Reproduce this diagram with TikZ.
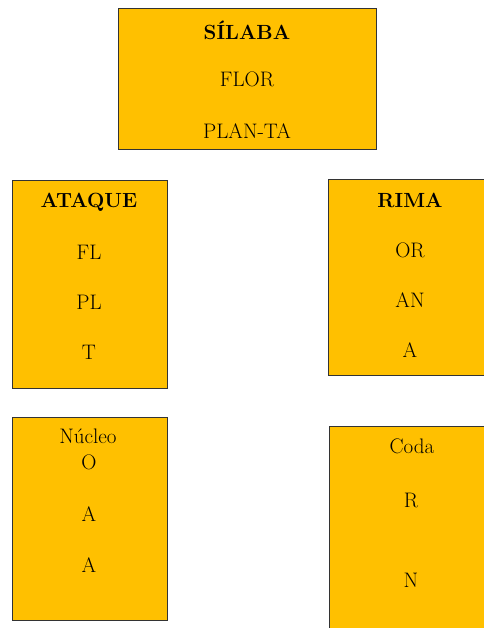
\documentclass[tikz,border=0pt]{standalone}
\usepackage{tikz}
\usepackage{color}
\definecolor{boxorange}{RGB}{255,192,0}

\begin{document}
\begin{tikzpicture}[x=1pt, y=-1pt, box/.style={draw=black!80, line width=1pt, fill=boxorange, anchor=north west, inner sep=0pt}, txt/.style={font=\fontsize{21}{25}\selectfont, inner sep=0pt}, head/.style={txt, font=\fontsize{20.5}{25}\selectfont\bfseries}]
            \useasboundingbox (0,0) rectangle (483,628);
            \node[box, minimum width=258pt, minimum height=141pt] (silaba) at (118,8) {};
            \node[box, minimum width=155pt, minimum height=208pt] (ataque) at (12,180) {};
            \node[box, minimum width=170pt, minimum height=196pt] (rima) at (328,179) {};
            \node[box, minimum width=155pt, minimum height=203pt] (nucleo) at (12,417) {};
            \node[box, minimum width=170pt, minimum height=215pt] (coda) at (329,426) {};

            \node[head] (silabaHead) at (247,30) {SÍLABA};
            \node[txt] (flor) at (247,79) {FLOR};
            \node[txt] (planta) at (247,131) {PLAN-TA};

            \node[head] (ataqueHead) at (89,202) {ATAQUE};
            \node[txt] (fl) at (89,252) {FL};
            \node[txt] (pl) at (89,302) {PL};
            \node[txt] (t) at (89,352) {T};

            \node[head] (rimaHead) at (410,200) {RIMA};
            \node[txt] (or) at (410,250) {OR};
            \node[txt] (an) at (410,300) {AN};
            \node[txt] (a) at (410,350) {A};

            \node[txt] (nucleoHead) at (88,436) {Núcleo};
            \node[txt] (nucleoO) at (89,462) {O};
            \node[txt] (nucleoA) at (89,514) {A};
            \node[txt] (nucleoAA) at (89,565) {A};

            \node[txt] (codaHead) at (412,446) {Coda};
            \node[txt] (codaR) at (411,500) {R};
            \node[txt] (codaN) at (411,580) {N};
        \end{tikzpicture}
\end{document}
